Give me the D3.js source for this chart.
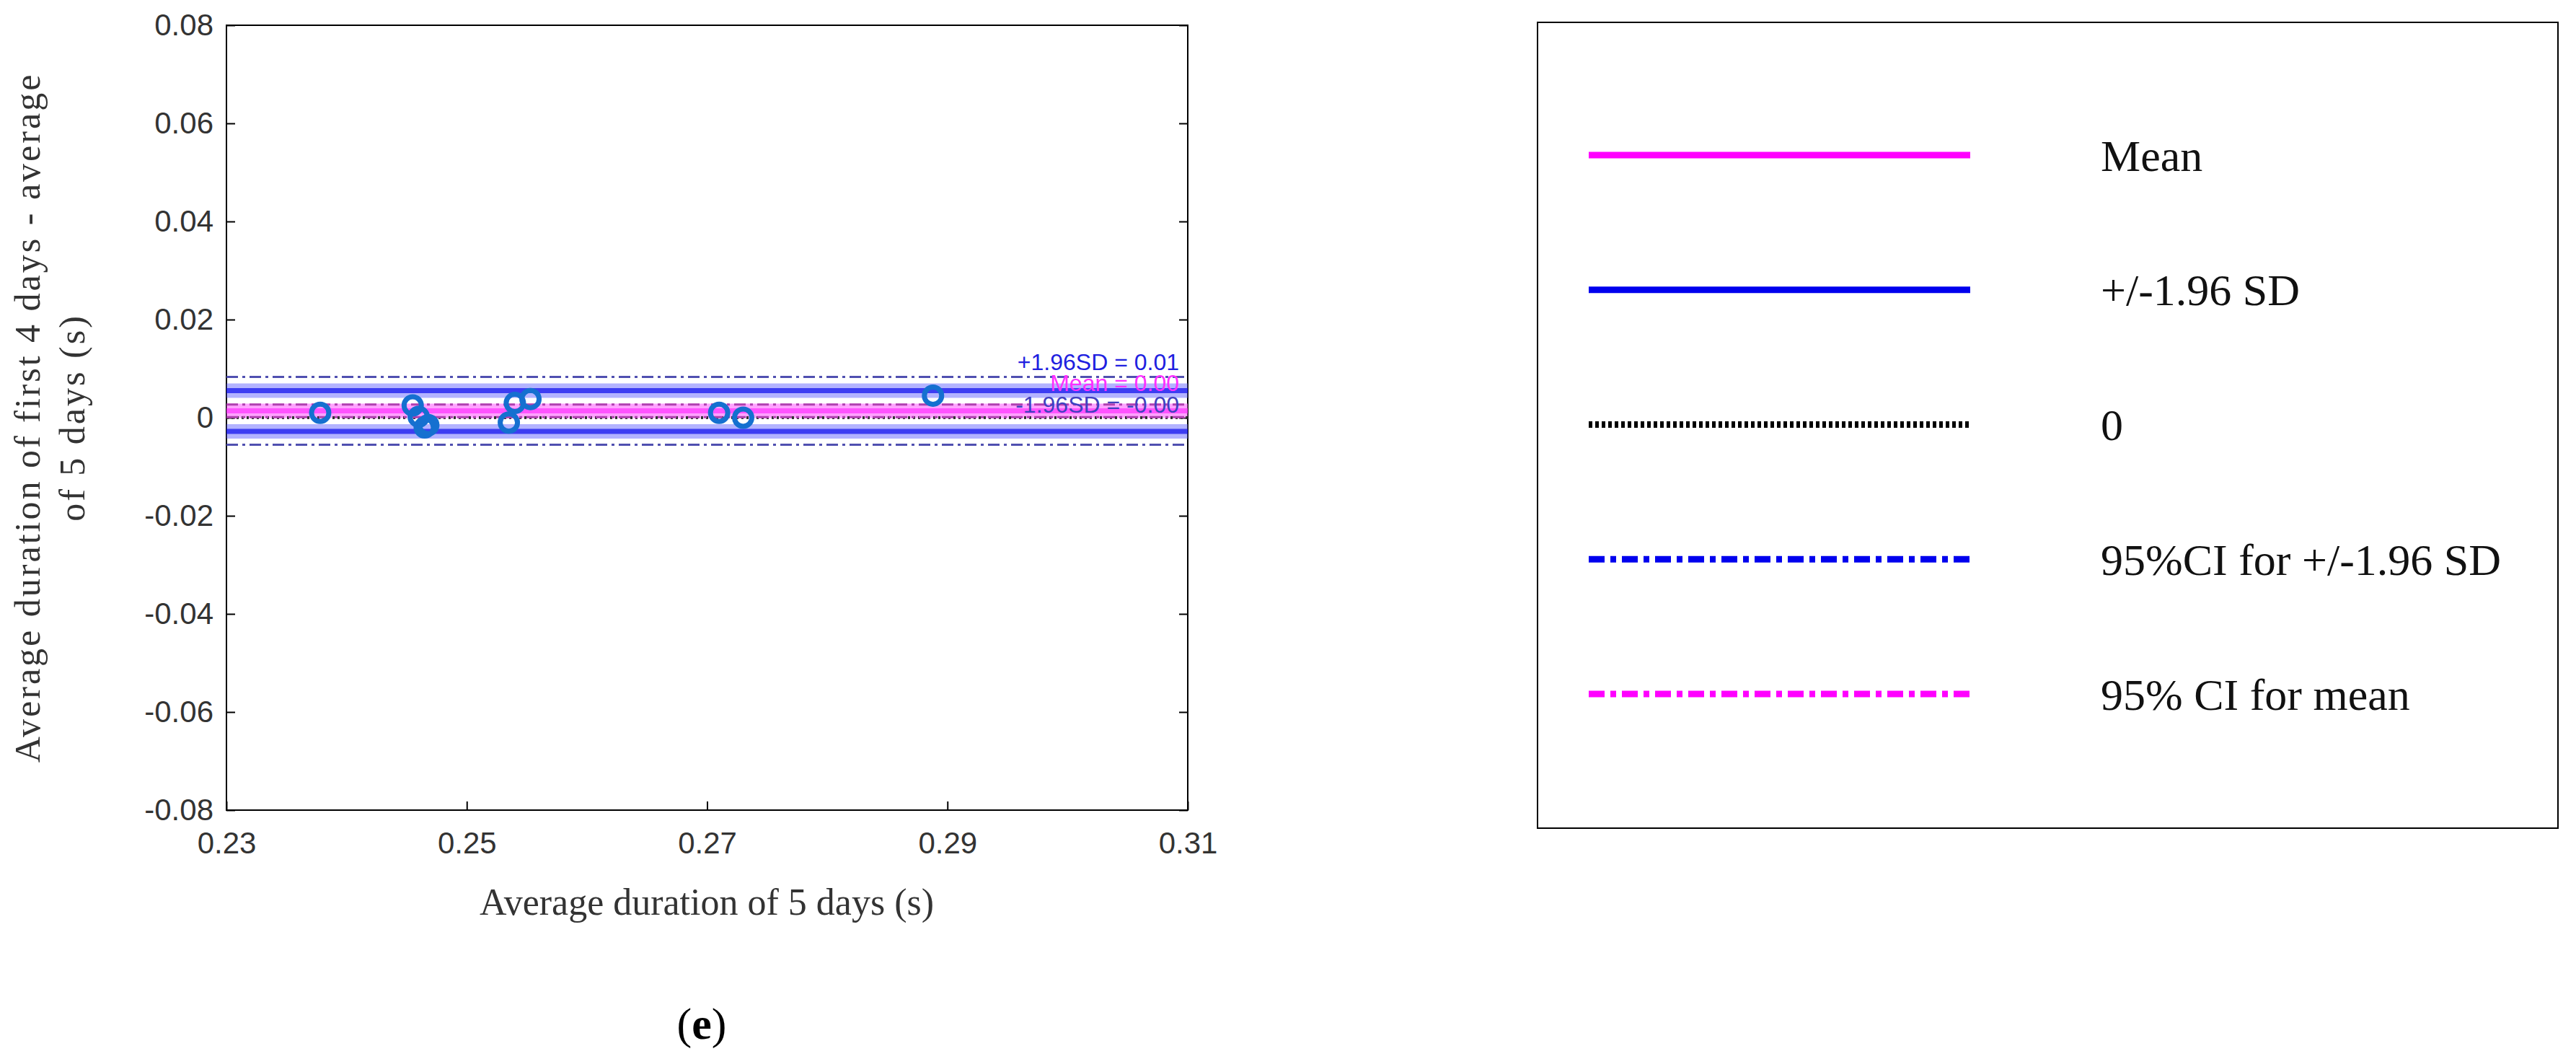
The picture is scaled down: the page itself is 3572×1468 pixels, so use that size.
<!DOCTYPE html>
<html><head><meta charset="utf-8">
<script src="https://cdn.jsdelivr.net/npm/d3@7"></script>
<style>body{margin:0;background:#fff}</style>
</head><body><div id="container"></div>
<script>
/* DATA */
const xTicks = [0.23, 0.25, 0.27, 0.29, 0.31];
const yTicks = [-0.08, -0.06, -0.04, -0.02, 0, 0.02, 0.04, 0.06, 0.08];
const pointX = [0.2378, 0.2455, 0.2460, 0.2465, 0.2468, 0.2535, 0.2540, 0.2553, 0.2710, 0.2730, 0.2888];
const pointY = [0.0010, 0.0025, 0.0002, -0.0020, -0.0015, -0.0010, 0.0030, 0.0038, 0.0010, 0.0000, 0.0045];
const meanVal = 0.0014, upperSD = 0.0055, lowerSD = -0.0028;
const ciSD = [0.0083, -0.0055];
const ciMean = [0.0027, 0.0001];
const legendLabels = ["Mean", "+/-1.96 SD", "0", "95%CI for +/-1.96 SD", "95% CI for mean"];
const annLabels = ["+1.96SD = 0.01", "Mean = 0.00", "-1.96SD = -0.00"];
const annY = [0.0097, 0.0054, 0.0011];

const W = 3572, H = 1468;
const margin = {left: 314, right: 1647, top: 35, bottom: 1123};

const svg = d3.select("#container").append("svg").attr("width", W).attr("height", H);

const xScale = d3.scaleLinear().domain([0.23, 0.31]).range([margin.left, margin.right]);
const yScale = d3.scaleLinear().domain([-0.08, 0.08]).range([margin.bottom, margin.top]);

const serif = "'Liberation Serif','DejaVu Serif',serif";
const sans = "'Liberation Sans Narrow','Liberation Sans',sans-serif";

// axes box
svg.append("rect").attr("x", margin.left).attr("y", margin.top)
  .attr("width", margin.right - margin.left).attr("height", margin.bottom - margin.top)
  .attr("fill", "none").attr("stroke", "#000").attr("stroke-width", 2);

const xAxis = svg.append("g").attr("transform", `translate(0,${margin.bottom})`)
  .call(d3.axisBottom(xScale).tickValues(xTicks).tickFormat(d3.format(".2f")).tickSize(-12).tickPadding(30));
const yAxis = svg.append("g").attr("transform", `translate(${margin.left},0)`)
  .call(d3.axisLeft(yScale).tickValues(yTicks).tickFormat(d => d === 0 ? "0" : d3.format(".2f")(d).replace("−", "-")).tickSize(-12).tickPadding(18));
svg.append("g").attr("transform", `translate(${margin.right},0)`)
  .call(d3.axisRight(yScale).tickValues(yTicks).tickFormat("").tickSize(-12));
[xAxis, yAxis].forEach(a => {
  a.selectAll("text").style("font-family", sans).style("font-size", "42px").attr("fill", "#333");
});
svg.selectAll(".tick line").attr("stroke", "#000").attr("stroke-width", 2);
svg.selectAll(".domain").remove();

const x0 = margin.left, x1 = margin.right;
function hline(v, color, width, dash, op) {
  svg.append("line").attr("x1", x0).attr("x2", x1)
    .attr("y1", yScale(v)).attr("y2", yScale(v))
    .attr("stroke", color).attr("stroke-width", width)
    .attr("stroke-dasharray", dash).attr("opacity", op);
}
// bands
hline(upperSD, "#6a6aff", 20, null, 0.5);
hline(lowerSD, "#6a6aff", 20, null, 0.5);
hline(meanVal, "#ff66ff", 20, null, 0.6);
hline(upperSD, "#2020f0", 7, null, 0.8);
hline(lowerSD, "#2020f0", 7, null, 0.8);
hline(meanVal, "#ff40ff", 7, null, 0.8);
hline(0, "#333", 4, "3,4", 1);
ciSD.forEach(v => hline(v, "#5050b0", 3, "16,6,4,6", 1));
ciMean.forEach(v => hline(v, "#b040b0", 3, "16,6,4,6", 1));

// points
svg.selectAll("circle.dot").data(pointX).join("circle").attr("class", "dot")
  .attr("cx", d => xScale(d)).attr("cy", (d, i) => yScale(pointY[i]))
  .attr("r", 12).attr("fill", "none").attr("stroke", "#1570d0").attr("stroke-width", 7);

// annotations
const annColors = ["#2020e0", "#ff30ff", "#4040c0"];
svg.selectAll("text.ann").data(annLabels).join("text").attr("class", "ann")
  .attr("x", x1 - 12).attr("y", (d, i) => yScale(annY[i])).attr("text-anchor", "end")
  .attr("fill", (d, i) => annColors[i]).style("font-family", sans).style("font-size", "32px").text(d => d);

// axis labels
svg.append("text").attr("x", 980).attr("y", 1268).attr("text-anchor", "middle")
  .style("font-family", serif).style("font-size", "52px").attr("fill", "#333").text("Average duration of 5 days (s)");
const yl = svg.append("text").attr("transform", `translate(55,${(margin.top + margin.bottom) / 2}) rotate(-90)`)
  .attr("text-anchor", "middle").style("font-family", serif).style("font-size", "50px").attr("fill", "#333").style("letter-spacing", "3px");
yl.append("tspan").attr("x", 0).attr("dy", 0).text("Average duration of first 4 days - average");
yl.append("tspan").attr("x", 0).attr("dy", 62).text("of 5 days (s)");

svg.append("text").attr("x", 973).attr("y", 1440).attr("text-anchor", "middle")
  .style("font-family", serif).style("font-size", "62px").attr("fill", "#000")
  .html("(<tspan font-weight='bold'>e</tspan>)");

// legend
svg.append("rect").attr("x", 2132).attr("y", 31).attr("width", 3547 - 2132).attr("height", 1148 - 31)
  .attr("fill", "none").attr("stroke", "#000").attr("stroke-width", 2);
const legStyles = [["#ff00ff", null], ["#0000ee", null], ["#000", "5,4"], ["#0000ee", "22,8,8,8"], ["#ff00ff", "22,8,8,8"]];
const legY = d3.scalePoint().domain(legendLabels).range([215, 962]);
svg.selectAll("line.leg").data(legendLabels).join("line").attr("class", "leg")
  .attr("x1", 2203).attr("x2", 2732).attr("y1", d => legY(d)).attr("y2", d => legY(d))
  .attr("stroke", (d, i) => legStyles[i][0]).attr("stroke-width", 9)
  .attr("stroke-dasharray", (d, i) => legStyles[i][1]);
svg.selectAll("text.leg").data(legendLabels).join("text").attr("class", "leg")
  .attr("x", 2913).attr("y", d => legY(d)).attr("dy", "0.35em")
  .style("font-family", serif).style("font-size", "62px").attr("fill", "#111").text(d => d);
</script></body></html>
